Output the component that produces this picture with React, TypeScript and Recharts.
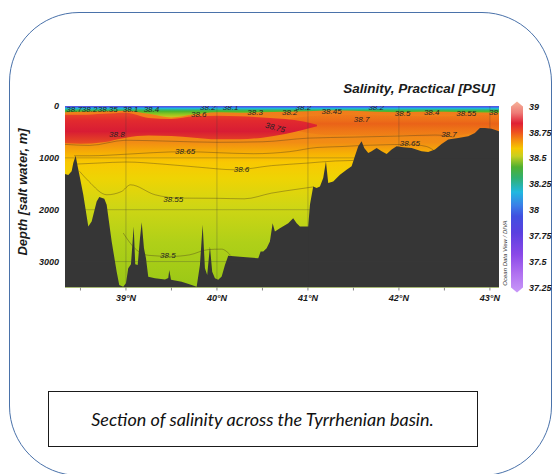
import React from 'react'
import {
  ComposedChart,
  Area,
  Scatter,
  XAxis,
  YAxis,
  CartesianGrid,
  ReferenceLine,
  BarChart,
  Bar,
} from 'recharts'

// seabed profile along the section (latitude °N, depth m)
const seabedLat = [
  38.33, 38.366, 38.403, 38.421, 38.447, 38.469, 38.495, 38.531, 38.586, 38.623,
  38.678, 38.707, 38.762, 38.788, 38.843, 38.898, 38.926, 38.97, 39.0, 39.025,
  39.055, 39.085, 39.102, 39.129, 39.154, 39.173, 39.198, 39.22, 39.245, 39.319,
  39.429, 39.465, 39.476, 39.495, 39.612, 39.722, 39.777, 39.813, 39.843, 39.868,
  39.893, 39.923, 39.948, 39.978, 40.014, 40.052, 40.088, 40.124, 40.253, 40.454,
  40.48, 40.509, 40.546, 40.582, 40.612, 40.637, 40.692, 40.784, 40.838, 40.876,
  40.912, 41.003, 41.022, 41.058, 41.095, 41.132, 41.168, 41.198, 41.223, 41.278,
  41.352, 41.425, 41.48, 41.516, 41.553, 41.59, 41.619, 41.663, 41.7, 41.755,
  41.81, 41.865, 41.92, 41.975, 42.047, 42.14, 42.249, 42.322, 42.396, 42.469,
  42.542, 42.652, 42.762, 42.835, 42.89, 42.945, 43.019, 43.1,
]
const seabedDepth = [
  1310, 1330, 1260, 1100, 957, 1164, 1389, 1712, 2325, 2228,
  1841, 1757, 1789, 1905, 2615, 3195, 3453, 3485, 3420, 3130,
  3050, 2325, 3050, 3066, 2550, 2240, 2743, 2937, 3292, 3324,
  3344, 3315, 3162, 3350, 3388, 3453, 3485, 3066, 2292, 3130,
  3260, 2711, 3195, 3324, 3350, 3290, 3066, 2886, 2905, 2937,
  2808, 2808, 2743, 2615, 2260, 2421, 2357, 2260, 2163, 2260,
  2325, 2325, 1905, 1551, 1583, 1551, 1389, 1068, 1486, 1454,
  1325, 1228, 1164, 970, 777, 680, 809, 906, 873, 809,
  873, 925, 841, 777, 796, 809, 873, 886, 841, 731,
  648, 615, 584, 519, 422, 422, 441, 487,
]

// fresher surface layer (bottom depth, m)
const surfLat = [38.33, 38.5, 38.75, 39.0, 39.25, 39.5, 39.75, 40.0, 40.25, 40.5, 40.75, 41.0, 41.25, 41.5, 41.75, 42.0, 42.25, 42.5, 42.75, 43.1]
const surfDepth = [120, 110, 100, 90, 150, 220, 160, 120, 130, 120, 110, 100, 80, 90, 110, 120, 110, 110, 120, 130]

// salty LIW core (> 38.75) top / bottom
const redLat = [38.33, 38.5, 38.75, 39.0, 39.25, 39.5, 39.75, 40.0, 40.25, 40.5, 40.75, 40.95, 41.1]
const redTop = [170, 170, 150, 130, 230, 250, 200, 190, 200, 220, 250, 300, 360]
const redBottom = [720, 730, 700, 610, 570, 580, 610, 640, 640, 610, 540, 460, 390]

// 38.7 core on the northern side
const coreLat = [40.8, 41.0, 41.25, 41.5, 41.75, 42.0, 42.25, 42.5, 42.75, 43.1]
const coreTop = [250, 200, 180, 170, 180, 190, 200, 200, 180, 170]
const coreBottom = [450, 520, 560, 560, 580, 560, 600, 600, 540, 470]

// isohalines
const c70Lat = [38.33, 38.6, 39.0, 39.5, 40.0, 40.5, 41.0, 41.5, 42.0, 42.4, 42.6]
const c70Depth = [740, 760, 660, 680, 700, 690, 620, 600, 580, 560, 600]
const c65Lat = [38.43, 38.6, 39.0, 39.3, 39.65, 40.0, 40.4, 40.8, 41.1, 41.4, 41.6, 41.8, 42.1, 42.3, 42.38]
const c65Depth = [960, 960, 930, 900, 880, 900, 920, 880, 800, 780, 760, 750, 740, 780, 850]
const c60Lat = [38.45, 38.7, 39.0, 39.4, 39.8, 40.2, 40.6, 41.0, 41.3, 41.5]
const c60Depth = [1120, 1100, 1080, 1120, 1180, 1230, 1150, 1100, 1060, 1050]
const c55Lat = [38.49, 38.59, 38.79, 38.95, 39.05, 39.32, 39.6, 40.0, 40.3, 40.6, 40.9, 41.06]
const c55Depth = [1260, 1450, 1712, 1650, 1520, 1712, 1776, 1780, 1790, 1680, 1600, 1560]
const c50Lat = [38.97, 39.1, 39.25, 39.5, 39.7, 39.9, 40.05, 40.15]
const c50Depth = [2450, 2750, 2880, 2900, 2870, 2770, 2760, 2880]

// contour labels
const labelLat = [38.9, 39.65, 40.27, 39.52, 39.46, 40.64, 41.59, 42.55, 42.12,
  38.43, 38.6, 38.8, 39.05, 39.28, 39.8, 40.42, 40.8, 41.26, 42.04, 42.36, 42.74, 43.04,
  39.9, 40.15, 40.95, 41.75]
const labelDepth = [540, 874, 1228, 1795, 2886, 420, 261, 551, 731,
  60, 60, 60, 60, 70, 160, 130, 130, 100, 140, 130, 150, 130,
  20, 20, 20, 20]
const labelText = ['38.8', '38.65', '38.6', '38.55', '38.5', '38.75', '38.7', '38.7', '38.65',
  '38.7', '38.2', '38.35', '38.1', '38.4', '38.6', '38.3', '38.2', '38.45', '38.5', '38.4', '38.55', '38',
  '38.2', '38.1', '38.2', '38.2']

const latTicks = [38.5, 39, 39.5, 40, 40.5, 41, 41.5, 42, 42.5, 43]
const majorLat = [39, 40, 41, 42, 43]
const depthTicks = [0, 1000, 2000, 3000]
const psuTicks = [37.25, 37.5, 37.75, 38, 38.25, 38.5, 38.75, 39]

const seabed = seabedLat.map((lat, i) => ({ lat, floor: seabedDepth[i] }))
const surface = surfLat.map((lat, i) => ({ lat, bottom: surfDepth[i] }))
const redCore = redLat.map((lat, i) => ({ lat, top: redTop[i], bottom: redBottom[i] }))
const northCore = coreLat.map((lat, i) => ({ lat, top: coreTop[i], bottom: coreBottom[i] }))
const iso = (lats: number[], depths: number[]) => lats.map((lat, i) => ({ lat, d: depths[i] }))
const contours = [
  iso(c70Lat, c70Depth),
  iso(c65Lat, c65Depth),
  iso(c60Lat, c60Depth),
  iso(c55Lat, c55Depth),
  iso(c50Lat, c50Depth),
]
const labels = labelLat.map((lat, i) => ({ lat, d: labelDepth[i], t: labelText[i] }))
const colorbar = [{ k: 'PSU', range: [37.25, 39] }]

const axisFont = { fontFamily: 'Liberation Sans', fontSize: 9, fontWeight: 700, fontStyle: 'italic', fill: '#1a1a1a' }

const LabelShape = (props: any) => {
  const { cx, cy, payload } = props
  const rot = payload.t === '38.75' ? 15 : 0
  return (
    <text
      x={cx}
      y={cy}
      textAnchor="middle"
      dominantBaseline="central"
      transform={rot ? `rotate(${rot} ${cx} ${cy})` : undefined}
      style={{ fontFamily: 'Liberation Sans', fontSize: 8, fontStyle: 'italic', fill: '#222' }}
    >
      {payload.t}
    </text>
  )
}

const ColorbarShape = (props: any) => {
  const { x, y, width, height } = props
  const pts = `${x},${y} ${x + width / 2},${y - 5} ${x + width},${y} ${x + width},${y + height} ${x + width / 2},${y + height + 5} ${x},${y + height}`
  return <polygon points={pts} fill="url(#cbGrad)" />
}

export default function App() {
  return (
    <div style={{ position: 'absolute', left: 0, top: 0, width: 552, height: 474, background: '#fff', overflow: 'hidden' }}>
      <svg width={0} height={0} style={{ position: 'absolute' }}>
        <defs>
          <linearGradient id="waterGrad" x1="0" y1="0" x2="0" y2="1">
            <stop offset="0" stopColor="#f07a1c" />
            <stop offset="0.2" stopColor="#f28c14" />
            <stop offset="0.26" stopColor="#f7b004" />
            <stop offset="0.31" stopColor="#f9c802" />
            <stop offset="0.4" stopColor="#eed404" />
            <stop offset="0.55" stopColor="#d0d614" />
            <stop offset="0.75" stopColor="#b0d018" />
            <stop offset="1" stopColor="#9ac816" />
          </linearGradient>
          <linearGradient id="redGrad" x1="0" y1="0" x2="0" y2="1">
            <stop offset="0" stopColor="#e84a26" />
            <stop offset="0.25" stopColor="#e22a2e" />
            <stop offset="0.6" stopColor="#d81c34" />
            <stop offset="1" stopColor="#e84e20" />
          </linearGradient>
          <linearGradient id="coreGrad" x1="0" y1="0" x2="0" y2="1">
            <stop offset="0" stopColor="#ec6818" stopOpacity={0.2} />
            <stop offset="0.4" stopColor="#e85a18" stopOpacity={0.8} />
            <stop offset="1" stopColor="#ee7016" stopOpacity={0.2} />
          </linearGradient>
          <linearGradient id="surfGrad" x1="0" y1="0" x2="0" y2="1">
            <stop offset="0" stopColor="#6a48e0" />
            <stop offset="0.1" stopColor="#3a6ae8" />
            <stop offset="0.2" stopColor="#20b4e6" />
            <stop offset="0.32" stopColor="#2cbc7c" />
            <stop offset="0.45" stopColor="#46b430" />
            <stop offset="0.7" stopColor="#8cc420" />
            <stop offset="1" stopColor="#d0c820" />
          </linearGradient>
          <linearGradient id="cbGrad" x1="0" y1="0" x2="0" y2="1">
            <stop offset="0" stopColor="#f6b49a" />
            <stop offset="0.06" stopColor="#ee7a76" />
            <stop offset="0.114" stopColor="#e02034" />
            <stop offset="0.16" stopColor="#ee5020" />
            <stop offset="0.2" stopColor="#f48a10" />
            <stop offset="0.246" stopColor="#f6c800" />
            <stop offset="0.286" stopColor="#c8d020" />
            <stop offset="0.343" stopColor="#50b030" />
            <stop offset="0.4" stopColor="#30b070" />
            <stop offset="0.474" stopColor="#20b8e0" />
            <stop offset="0.543" stopColor="#3a80e8" />
            <stop offset="0.6" stopColor="#4050e0" />
            <stop offset="0.686" stopColor="#5a40e0" />
            <stop offset="0.8" stopColor="#8a48e8" />
            <stop offset="0.9" stopColor="#b070f0" />
            <stop offset="1" stopColor="#c898f8" />
          </linearGradient>
        </defs>
      </svg>

      {/* card outline */}
      <div
        style={{
          position: 'absolute',
          left: 8.5,
          top: 11.5,
          width: 543,
          height: 464,
          boxSizing: 'border-box',
          border: '1.5px solid #4a72aa',
          borderRadius: 70,
        }}
      />

      <div
        style={{
          position: 'absolute',
          right: 57,
          top: 81,
          fontFamily: 'Liberation Sans',
          fontSize: 13.5,
          fontWeight: 700,
          fontStyle: 'italic',
          color: '#1a1a1a',
          lineHeight: '15px',
          whiteSpace: 'nowrap',
        }}
      >
        Salinity, Practical [PSU]
      </div>

      <div
        style={{
          position: 'absolute',
          left: -57,
          top: 184,
          width: 160,
          height: 16,
          lineHeight: '16px',
          textAlign: 'center',
          transform: 'rotate(-90deg)',
          fontFamily: 'Liberation Sans',
          fontSize: 13,
          fontWeight: 700,
          fontStyle: 'italic',
          color: '#1a1a1a',
          whiteSpace: 'nowrap',
        }}
      >
        Depth [salt water, m]
      </div>

      <div style={{ position: 'absolute', left: 0, top: 0 }}>
        <ComposedChart width={552} height={320} margin={{ top: 106, right: 53, bottom: 12.5, left: 8 }}>
          <CartesianGrid horizontal={false} vertical={false} fill="url(#waterGrad)" />
          <XAxis
            dataKey="lat"
            type="number"
            domain={[38.33, 43.1]}
            ticks={latTicks}
            interval={0}
            allowDataOverflow
            height={20}
            axisLine={false}
            tickLine={{ stroke: '#888' }}
            tickSize={3}
            tickMargin={4}
            tick={axisFont}
            tickFormatter={(v: number) => (Number.isInteger(v) ? `${v}°N` : '')}
          />
          <YAxis
            type="number"
            domain={[0, 3500]}
            reversed
            ticks={depthTicks}
            interval={0}
            allowDataOverflow
            width={57}
            axisLine={false}
            tickLine={false}
            tickSize={4}
            tickMargin={2}
            tick={axisFont}
          />
          <Area
            data={northCore}
            dataKey={(r: any) => [r.top, r.bottom]}
            type="monotone"
            stroke="none"
            fill="url(#coreGrad)"
            fillOpacity={1}
            isAnimationActive={false}
          />
          <Area
            data={redCore}
            dataKey={(r: any) => [r.top, r.bottom]}
            type="monotone"
            stroke="none"
            fill="url(#redGrad)"
            fillOpacity={1}
            isAnimationActive={false}
          />
          <Area
            data={surface}
            dataKey={(r: any) => [0, r.bottom]}
            type="monotone"
            stroke="none"
            fill="url(#surfGrad)"
            fillOpacity={1}
            isAnimationActive={false}
          />
          {/* isohalines drawn as unfilled areas so the seabed covers them */}
          {contours.map((c, i) => (
            <Area
              key={i}
              data={c}
              dataKey="d"
              type="monotone"
              stroke="#4a3a20"
              strokeOpacity={0.55}
              strokeWidth={0.7}
              fill="none"
              dot={false}
              activeDot={false}
              isAnimationActive={false}
            />
          ))}
          <Area
            data={seabed}
            dataKey={(r: any) => [r.floor, 3500]}
            type="linear"
            stroke="none"
            fill="#363636"
            fillOpacity={1}
            isAnimationActive={false}
          />
          <Scatter data={labels} dataKey="d" shape={LabelShape} isAnimationActive={false} />
          {majorLat.map((v) => (
            <ReferenceLine key={`x${v}`} x={v} stroke="#3a3a3a" strokeOpacity={0.35} strokeWidth={0.8} />
          ))}
          {depthTicks.slice(1).map((v) => (
            <ReferenceLine key={`y${v}`} y={v} stroke="#3a3a3a" strokeOpacity={0.35} strokeWidth={0.8} />
          ))}
        </ComposedChart>
      </div>

      <div style={{ position: 'absolute', left: 500, top: 90 }}>
        <BarChart width={58} height={208} data={colorbar} margin={{ top: 16.5, right: 0, bottom: 10.5, left: 11 }} barCategoryGap={0}>
          <XAxis dataKey="k" hide />
          <YAxis
            orientation="right"
            type="number"
            domain={[37.25, 39]}
            ticks={psuTicks}
            interval={0}
            width={35}
            axisLine={false}
            tickLine={false}
            tickSize={4}
            tickMargin={2}
            tick={axisFont}
          />
          <Bar dataKey="range" shape={ColorbarShape} isAnimationActive={false} />
        </BarChart>
      </div>

      <div
        style={{
          position: 'absolute',
          left: 472,
          top: 249,
          width: 66,
          height: 8,
          lineHeight: '8px',
          textAlign: 'center',
          transform: 'rotate(-90deg)',
          fontFamily: 'Liberation Sans',
          fontSize: 6,
          fontStyle: 'italic',
          color: '#333',
          whiteSpace: 'nowrap',
        }}
      >
        Ocean Data View / DIVA
      </div>

      <div
        style={{
          position: 'absolute',
          left: 47.5,
          top: 390.5,
          width: 430,
          height: 56,
          boxSizing: 'border-box',
          border: '1.3px solid #1a1a1a',
          display: 'flex',
          alignItems: 'center',
          justifyContent: 'center',
          fontFamily: 'Lato',
          fontStyle: 'italic',
          fontSize: 18,
          color: '#111',
        }}
      >
        Section of salinity across the Tyrrhenian basin.
      </div>
    </div>
  )
}
